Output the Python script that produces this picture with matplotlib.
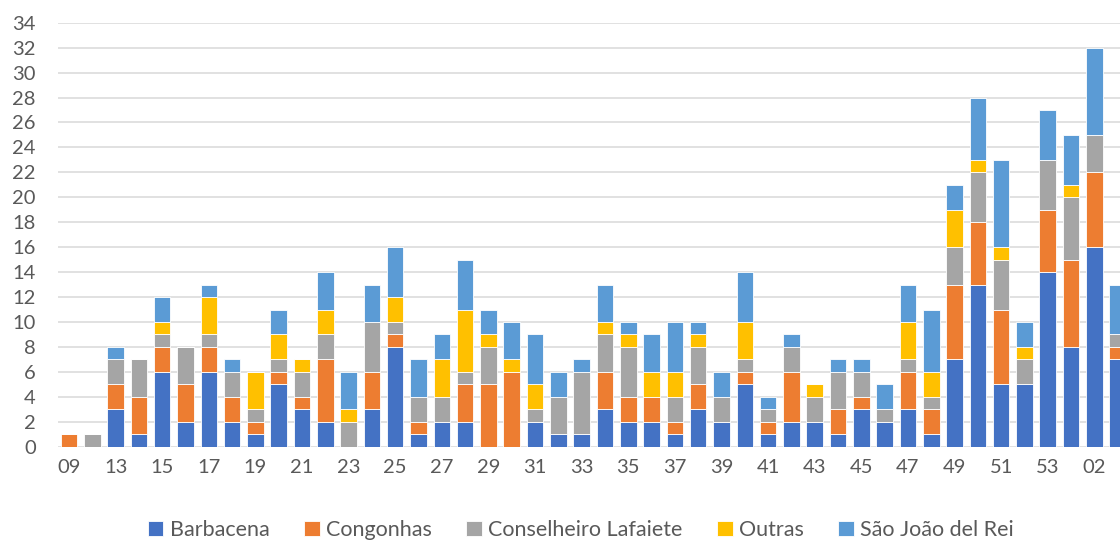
import numpy as np
import matplotlib
matplotlib.use("Agg")
import matplotlib.pyplot as plt

plt.rcParams['font.family'] = ['Lato', 'DejaVu Sans']

semanas = ['09', '12', '13', '14', '15', '16', '17', '18', '19', '20', '21', '22', '23', '24',
           '25', '26', '27', '28', '29', '30', '31', '32', '33', '34', '35', '36', '37', '38',
           '39', '40', '41', '42', '43', '44', '45', '46', '47', '48', '49', '50', '51', '52',
           '53', '01', '02', '03']

barbacena = [0, 0, 3, 1, 6, 2, 6, 2, 1, 5, 3, 2, 0, 3, 8, 1, 2, 2, 0, 0, 2, 1, 1, 3, 2, 2, 1, 3,
             2, 5, 1, 2, 2, 1, 3, 2, 3, 1, 7, 13, 5, 5, 14, 8, 16, 7]
congonhas = [1, 0, 2, 3, 2, 3, 2, 2, 1, 1, 1, 5, 0, 3, 1, 1, 0, 3, 5, 6, 0, 0, 0, 3, 2, 2, 1, 2,
             0, 1, 1, 4, 0, 2, 1, 0, 3, 2, 6, 5, 6, 0, 5, 7, 6, 1]
lafaiete = [0, 1, 2, 3, 1, 3, 1, 2, 1, 1, 2, 2, 2, 4, 1, 2, 2, 1, 3, 0, 1, 3, 5, 3, 4, 0, 2, 3,
            2, 1, 1, 2, 2, 3, 2, 1, 1, 1, 3, 4, 4, 2, 4, 5, 3, 1]
outras = [0, 0, 0, 0, 1, 0, 3, 0, 3, 2, 1, 2, 1, 0, 2, 0, 3, 5, 1, 1, 2, 0, 0, 1, 1, 2, 2, 1,
          0, 3, 0, 0, 1, 0, 0, 0, 3, 2, 3, 1, 1, 1, 0, 1, 0, 0]
sao_joao = [0, 0, 1, 0, 2, 0, 1, 1, 0, 2, 0, 3, 3, 3, 4, 3, 2, 4, 2, 3, 4, 2, 1, 3, 1, 3, 4, 1,
            2, 4, 1, 1, 0, 1, 1, 2, 3, 5, 2, 5, 7, 2, 4, 4, 7, 4]

series = [('Barbacena', barbacena, '#4472C4'),
          ('Congonhas', congonhas, '#ED7D31'),
          ('Conselheiro Lafaiete', lafaiete, '#A5A5A5'),
          ('Outras', outras, '#FFC000'),
          ('São João del Rei', sao_joao, '#5B9BD5')]

cinza = '#595959'

fig = plt.figure(figsize=(11.2, 5.43), dpi=100)
ax = fig.add_axes([58 / 1120, 1 - 446.7 / 543, 1 - 58 / 1120, (446.7 - 22.7) / 543])

x = np.arange(len(semanas))
base = np.zeros(len(semanas))
for nome, valores, cor in series:
    ax.bar(x, valores, bottom=base, width=0.71, color=cor, edgecolor='white',
           linewidth=0.6, label=nome, zorder=3)
    base = base + np.array(valores)

ax.set_ylim(0, 34)
ax.set_yticks(range(0, 35, 2))
ax.set_xlim(-0.47, 45.1)
ax.set_xticks(x[::2])
ax.set_xticklabels(semanas[::2])
ax.grid(axis='y', color='#d9d9d9', linewidth=1.1, zorder=0)
ax.set_axisbelow(True)
for s in ax.spines.values():
    s.set_visible(False)
ax.tick_params(axis='both', length=0, labelsize=14.5, colors=cinza)
ax.tick_params(axis='y', pad=16)
ax.tick_params(axis='x', pad=9)

fig.legend(loc='center', bbox_to_anchor=(581 / 1120, 1 - 530 / 543), ncol=5, frameon=False,
           fontsize=15.5, labelcolor=cinza, handlelength=0.72, handleheight=0.72,
           handletextpad=0.3, columnspacing=1.6)

fig.savefig('out.png', dpi=100)
